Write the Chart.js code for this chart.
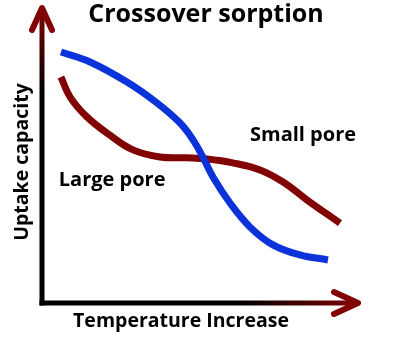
<!DOCTYPE html>
<html>
<head>
<meta charset="utf-8">
<script src="https://cdn.jsdelivr.net/npm/chart.js@4/dist/chart.umd.min.js"></script>
<style>
  body { margin: 0; background: #fff; }
  canvas { display: block; }
</style>
</head>
<body>
<canvas id="chart" width="398" height="342"></canvas>
<script>
// Data (arbitrary units, 0-10 on both axes)
const smallPoreTemp = [0.60, 1.52, 2.69, 3.64, 4.37, 4.78, 5.09, 5.41, 5.95, 6.58, 7.31, 8.16, 9.05];
const smallPoreUptake = [8.51, 8.17, 7.49, 6.78, 6.10, 5.53, 4.95, 4.27, 3.39, 2.58, 1.97, 1.63, 1.46];
const largePoreTemp = [0.60, 0.89, 1.42, 2.15, 2.88, 3.73, 4.59, 5.22, 6.04, 6.90, 7.63, 8.39, 9.43];
const largePoreUptake = [7.66, 6.98, 6.31, 5.69, 5.19, 4.95, 4.92, 4.88, 4.75, 4.51, 4.10, 3.49, 2.71];

const titleText = "Crossover sorption";
const xTitle = "Temperature Increase";
const yTitle = "Uptake capacity";
const seriesLabels = ["Small pore", "Large pore"];
// where the curve labels sit, in data units
const labelAnchors = [[8.26, 5.69], [2.22, 4.17]];

const BLUE = "#0b33d9";
const RED = "#820303";
const FONT = "'Open Sans', sans-serif";

function toPoints(xs, ys) {
	return xs.map((x, i) => ({ x, y: ys[i] }));
}

// Draws the arrow axes, the titles and the curve labels
const decorations = {
	id: "decorations",
	beforeDatasetsDraw(chart) {
		const { ctx, chartArea } = chart;
		const { left, top, right, bottom } = chartArea;
		ctx.save();
		ctx.lineWidth = 5;
		ctx.lineCap = "butt";

		// y axis: dark red at the tip fading to black
		let g = ctx.createLinearGradient(0, top, 0, top + 85);
		g.addColorStop(0, RED);
		g.addColorStop(1, "#000");
		ctx.strokeStyle = g;
		ctx.beginPath();
		ctx.moveTo(left, bottom + 2.5);
		ctx.lineTo(left, top + 2);
		ctx.stroke();

		// x axis: black fading to dark red at the tip
		g = ctx.createLinearGradient(left + 200, 0, right, 0);
		g.addColorStop(0, "#000");
		g.addColorStop(1, RED);
		ctx.strokeStyle = g;
		ctx.beginPath();
		ctx.moveTo(left - 2.5, bottom);
		ctx.lineTo(right - 2, bottom);
		ctx.stroke();

		// arrow heads
		ctx.lineWidth = 6;
		ctx.lineCap = "round";
		ctx.lineJoin = "round";
		ctx.strokeStyle = RED;
		ctx.beginPath();
		ctx.moveTo(left - 10, top + 22);
		ctx.lineTo(left, top);
		ctx.lineTo(left + 10, top + 22);
		ctx.stroke();
		ctx.beginPath();
		ctx.moveTo(right - 24, bottom - 11);
		ctx.lineTo(right, bottom);
		ctx.lineTo(right - 24, bottom + 11);
		ctx.stroke();

		// texts
		ctx.fillStyle = "#000";
		ctx.textAlign = "center";
		ctx.textBaseline = "middle";
		ctx.font = "bold 25px " + FONT;
		ctx.fillText(titleText, 206, 15);
		ctx.font = "bold 19.5px " + FONT;
		ctx.fillText(xTitle, 181, 321);
		ctx.save();
		ctx.translate(22, 162);
		ctx.rotate(-Math.PI / 2);
		ctx.fillText(yTitle, 0, 0);
		ctx.restore();

		ctx.font = "bold 20px " + FONT;
		const xs = chart.scales.x, ys = chart.scales.y;
		labelAnchors.forEach(([lx, ly], i) => {
			ctx.fillText(seriesLabels[i], xs.getPixelForValue(lx), ys.getPixelForValue(ly));
		});
		ctx.restore();
	},
};

new Chart(document.getElementById("chart"), {
	type: "line",
	data: {
		datasets: [
			{
				label: seriesLabels[0],
				data: toPoints(smallPoreTemp, smallPoreUptake),
				borderColor: BLUE,
			},
			{
				label: seriesLabels[1],
				data: toPoints(largePoreTemp, largePoreUptake),
				borderColor: RED,
			},
		],
	},
	options: {
		responsive: false,
		animation: false,
		layout: { padding: { left: 42, right: 40, top: 8, bottom: 39 } },
		elements: {
			line: { borderWidth: 7, tension: 0.4, borderCapStyle: "butt" },
			point: { radius: 0 },
		},
		scales: {
			x: { type: "linear", min: 0, max: 10, display: false },
			y: { type: "linear", min: 0, max: 10, display: false },
		},
		plugins: {
			legend: { display: false },
			tooltip: { enabled: false },
		},
	},
	plugins: [decorations],
});
</script>
</body>
</html>
